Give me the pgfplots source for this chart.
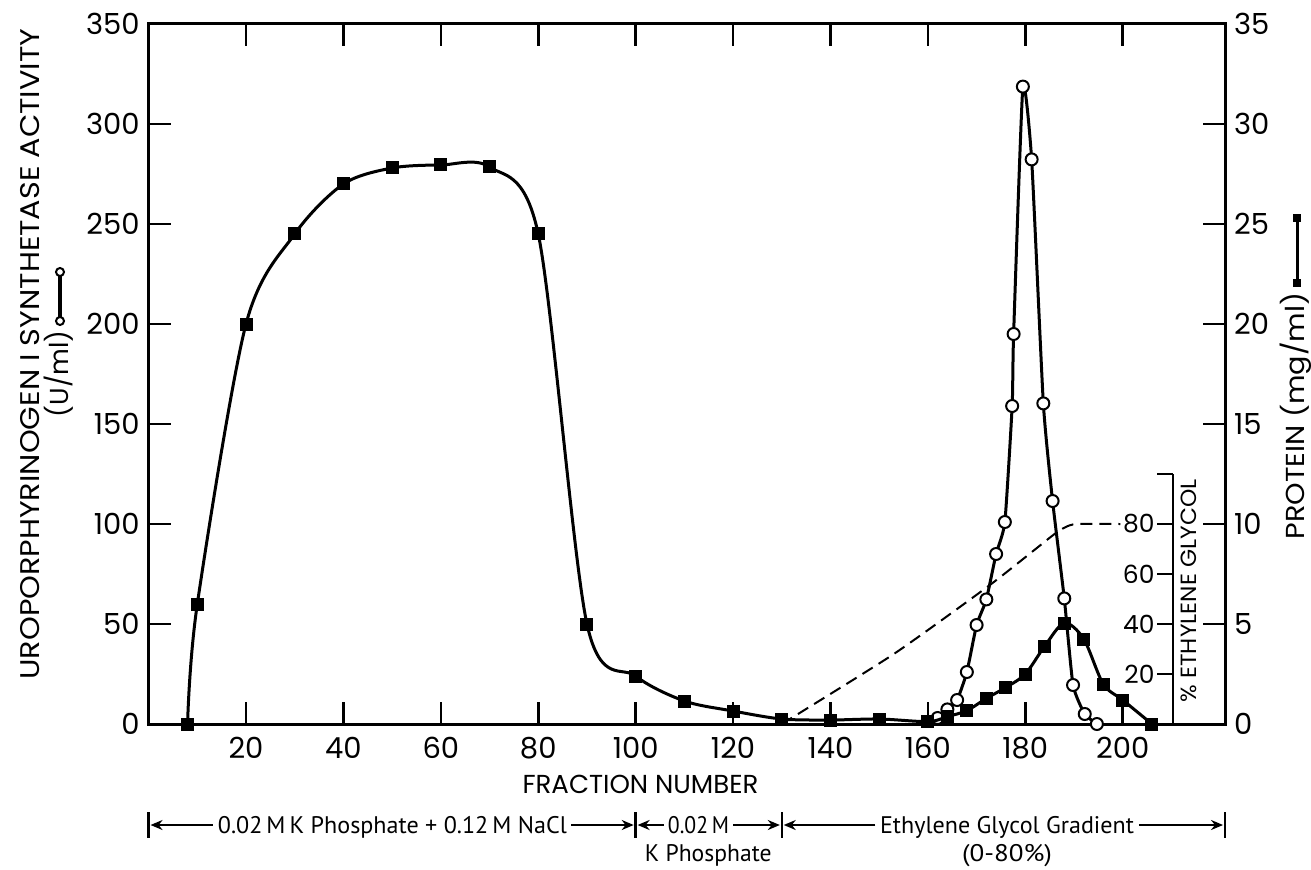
\documentclass[border=0pt]{standalone}
\usepackage{graphicx}
\usepackage{fontspec}
\setmainfont{Poppins}
\newfontfamily\notefont{PT Sans}
\usepackage{pgfplots}
\usepackage{pgfplotstable}
\pgfplotsset{compat=1.18}
\usetikzlibrary{arrows.meta}

% protein, mg/ml
\pgfplotstableread{
frac prot
8 0
10 6.0
20 20.0
30 24.5
40 27.0
50 27.8
60 27.95
70 27.85
80 24.5
90 5.0
100 2.4
110 1.15
120 0.65
130 0.25
140 0.2
150 0.25
160 0.12
164 0.37
168 0.67
172 1.28
176 1.83
180 2.5
184 3.9
188 5.05
192 4.25
196 2.0
200 1.2
206 0
}\protein

% uroporphyrinogen I synthetase activity, U/ml
\pgfplotstableread{
frac act
162 3
164 7.3
166 12
168 26
170 49.5
172 62.3
174 85
175.8 101
177.3 159
177.6 195
179.5 318.7
181.3 282.3
183.7 160.3
185.6 111.5
188 62.8
189.8 19.5
192.2 5
194.7 0
}\activity

% ethylene glycol gradient, percent
\pgfplotstableread{
frac pct
130 0
153 28
173 56
186 76
189 79.4
191 80
199.5 80
}\glycol

% text stretched to a given width, height kept
\newcommand\wbox[2]{\resizebox{#1}{\height}{#2}}

\pgfplotsset{
  chrom/.style={
    at={(0,0)}, anchor=south west, scale only axis,
    width=538.2pt, height=350pt,
    xmin=0, xmax=221,
    tick align=inside, major tick length=11pt,
    tick style={line width=1.3pt, black},
    axis line style={line width=1.5pt},
    every tick label/.append style={font=\fontsize{14.5}{15}\selectfont},
    /pgf/number format/assume math mode=true,
  }
}

\begin{document}
\begin{tikzpicture}
\useasboundingbox (-74.3pt,-72.5pt) rectangle (581.2pt,362pt);

\begin{axis}[chrom,
  ymin=0, ymax=350,
  xtick={20,40,...,200}, xtick pos=both, xticklabel pos=lower,
  ytick={0,50,...,350}, ytick pos=left,
  xticklabel style={yshift=-3pt},
  yticklabel style={xshift=-1pt},
  clip=false]

  % activity
  \addplot[line width=1.5pt, smooth, tension=0.3,
    mark=*, mark size=3pt,
    mark options={fill=white, draw=black, line width=1pt}]
    table[x=frac, y=act] {\activity};

  % ethylene glycol (80 % drawn at 100 U/ml)
  \addplot[line width=1pt, dash pattern=on 6pt off 3.5pt, smooth, tension=0.35]
    table[x=frac, y expr=\thisrow{pct}*1.25] {\glycol};

  % percent ethylene glycol scale
  \draw[line width=1.3pt] (axis cs:210.3,0) -- (axis cs:210.3,125);
  \draw[line width=1.3pt] (axis cs:210.3,25) -- ++(-8pt,0);
  \draw[line width=1.3pt] (axis cs:210.3,50) -- ++(-8pt,0);
  \draw[line width=1.3pt] (axis cs:210.3,75) -- ++(-8pt,0);
  \draw[line width=1.3pt] (axis cs:210.3,100) -- ++(-8pt,0);
  \draw[line width=1.3pt] (axis cs:210.3,125) -- ++(-8pt,0);
  \begin{scope}[every node/.style={anchor=east, inner sep=1pt,
      font=\fontsize{12.5}{13}\selectfont}]
    \node at ([xshift=-8pt]axis cs:210.3,25) {20};
    \node at ([xshift=-8pt]axis cs:210.3,50) {40};
    \node at ([xshift=-8pt]axis cs:210.3,75) {60};
    \node at ([xshift=-8pt]axis cs:210.3,100) {80};
  \end{scope}

  % axis title
  \node[anchor=base, font=\fontsize{13}{13}\selectfont]
    at ([yshift=-34.5pt]axis cs:101,0) {FRACTION NUMBER};

  % buffer steps
  \begin{scope}[line width=1.2pt, >={Stealth[length=6pt, width=5pt]}]
    \draw ([yshift=-44pt]axis cs:0,0) -- ([yshift=-57pt]axis cs:0,0);
    \draw ([yshift=-44pt]axis cs:100,0) -- ([yshift=-57pt]axis cs:100,0);
    \draw ([yshift=-44pt]axis cs:130,0) -- ([yshift=-57pt]axis cs:130,0);
    \draw ([yshift=-44pt]axis cs:221,0) -- ([yshift=-57pt]axis cs:221,0);
    \draw[->] ([yshift=-50.5pt]axis cs:13.2,0) -- ([yshift=-50.5pt]axis cs:0.4,0);
    \draw[->] ([yshift=-50.5pt]axis cs:86.8,0) -- ([yshift=-50.5pt]axis cs:99.6,0);
    \draw[->] ([yshift=-50.5pt]axis cs:105.8,0) -- ([yshift=-50.5pt]axis cs:100.4,0);
    \draw[->] ([yshift=-50.5pt]axis cs:120,0) -- ([yshift=-50.5pt]axis cs:129.6,0);
    \draw[->] ([yshift=-50.5pt]axis cs:149.2,0) -- ([yshift=-50.5pt]axis cs:130.4,0);
    \draw[->] ([yshift=-50.5pt]axis cs:203.3,0) -- ([yshift=-50.5pt]axis cs:220.6,0);
  \end{scope}
  \begin{scope}[every node/.style={anchor=base, inner sep=0pt,
      font=\notefont\fontsize{12}{12}\selectfont}]
    \node at ([yshift=-54.75pt]axis cs:50.05,0)
      {\wbox{174.5pt}{0.02\,M\,K Phosphate + 0.12\,M NaCl}};
    \node at ([yshift=-54.75pt]axis cs:112.9,0) {\wbox{30.5pt}{0.02\,M}};
    \node at ([yshift=-54.75pt]axis cs:176.25,0)
      {\wbox{127pt}{Ethylene Glycol Gradient}};
    \node at ([yshift=-68.75pt]axis cs:114.9,0) {\wbox{63.3pt}{K Phosphate}};
    \node at ([yshift=-68.75pt]axis cs:176.25,0) {\wbox{45pt}{(0-80\%)}};
  \end{scope}
\end{axis}

\begin{axis}[chrom,
  ymin=0, ymax=35,
  axis x line=none, axis y line*=right,
  ytick={0,5,...,35},
  yticklabel style={xshift=1pt},
  clip=false]
  % protein
  \addplot[line width=1.5pt, smooth, tension=0.5,
    mark=square*, mark size=3pt,
    mark options={fill=black, draw=black, line width=0.5pt}]
    table[x=frac, y=prot] {\protein};
\end{axis}

% left axis title
\node[rotate=90, anchor=base west, inner sep=0pt, font=\fontsize{13.5}{14}\selectfont]
  at (-54.5pt,22pt) {\wbox{325.5pt}{UROPORPHYRINOGEN I SYNTHETASE ACTIVITY}};
\node[rotate=90, anchor=base east, inner sep=0pt, font=\fontsize{13}{13}\selectfont]
  at (-40pt,197pt) {(U/ml)};
\draw[line width=2pt] (-44.3pt,201.5pt) -- (-44.3pt,226pt);
\draw[line width=1pt, fill=white] (-44.3pt,201.5pt) circle (2pt);
\draw[line width=1pt, fill=white] (-44.3pt,226pt) circle (2pt);

% right axis title
\node[rotate=90, anchor=base west, inner sep=0pt, font=\fontsize{13}{13}\selectfont]
  at (577.7pt,92pt) {\wbox{123.5pt}{PROTEIN (mg/ml)}};
\draw[line width=1.5pt] (574.2pt,220.5pt) -- (574.2pt,253pt);
\fill (572.4pt,218.7pt) rectangle (576pt,222.3pt);
\fill (572.4pt,251.2pt) rectangle (576pt,254.8pt);

% glycol scale title
\node[rotate=90, inner sep=0pt, font=\fontsize{11}{11}\selectfont]
  at (520.2pt,66.5pt) {\wbox{111.5pt}{\% ETHYLENE GLYCOL}};
\end{tikzpicture}
\end{document}
